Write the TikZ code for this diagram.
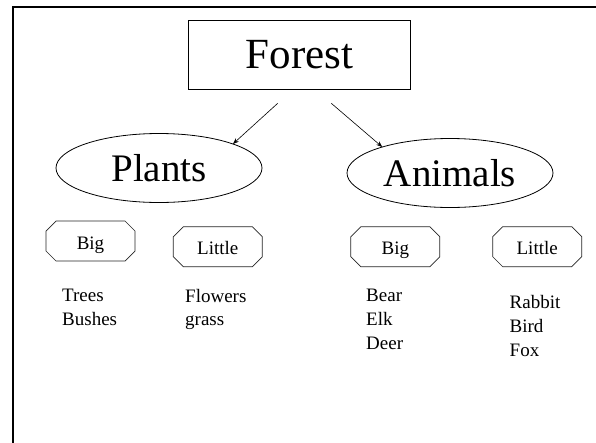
\documentclass[tikz,border=0pt]{standalone}
\usepackage{fontspec}
\setmainfont{Liberation Serif}
\usetikzlibrary{shapes.geometric,arrows.meta}
\begin{document}
\begin{tikzpicture}[x=1pt,y=-1pt,
  frame/.style={line width=2pt},
  topbox/.style={draw, rectangle, line width=0.8pt, minimum width=222pt, minimum height=69pt, inner sep=0pt, outer sep=0pt, font=\fontsize{43}{50}\selectfont},
  group/.style={draw, ellipse, line width=0.8pt, minimum width=206pt, minimum height=69pt, inner sep=0pt, outer sep=0pt, font=\fontsize{39}{46}\selectfont},
  sizebox/.style={rectangle, minimum width=89pt, minimum height=40pt, inner sep=0pt, outer sep=0pt, font=\fontsize{19}{23}\selectfont, text height=19pt, text depth=3pt},
  octline/.style={line width=0.7pt, draw=black!85},
  items/.style={anchor=north west, inner sep=0pt, align=left, font=\fontsize{19}{23.7}\selectfont},
  conn/.style={-{Stealth[length=6pt,width=4.5pt]}, line width=0.6pt}
]
\useasboundingbox (0,0) rectangle (596,442);
\fill[white] (0,0) rectangle (596,442);
\draw[frame] (12.5,443) -- (12.5,6.7) -- (597,6.7);

\node[topbox] (forest) at (299.5,54.7) {Forest};
\node[group] (plants) at (159,168) {Plants};
\node[group] (animals) at (450,173) {Animals};

\coordinate (s1) at (277.7,103.3);
\coordinate (s2) at (331.3,103.3);
\draw[conn] (s1) -- (plants.18.8);
\draw[conn] (s2) -- (animals.159.7);

\node[sizebox] (big1) at (90.5,241) {Big};
\node[sizebox] (little1) at (217.8,246.7) {Little};
\node[sizebox] (big2) at (395.3,246.7) {Big};
\node[sizebox] (little2) at (537.2,246.7) {Little};
\foreach \n in {big1,little1,big2,little2}{
  \draw[octline] ([xshift=10pt]\n.north west) -- ([xshift=-10pt]\n.north east)
    -- ([yshift=-10pt]\n.north east) -- ([yshift=10pt]\n.south east)
    -- ([xshift=-10pt]\n.south east) -- ([xshift=10pt]\n.south west)
    -- ([yshift=10pt]\n.south west) -- ([yshift=-10pt]\n.north west) -- cycle;
}

\node[items] (plist1) at (62,289) {Trees\\Bushes};
\node[items] (plist2) at (185,288.7) {Flowers\\grass};
\node[items] (alist1) at (366,289) {Bear\\Elk\\Deer};
\node[items] (alist2) at (509.5,295.3) {Rabbit\\Bird\\Fox};
\end{tikzpicture}
\end{document}
